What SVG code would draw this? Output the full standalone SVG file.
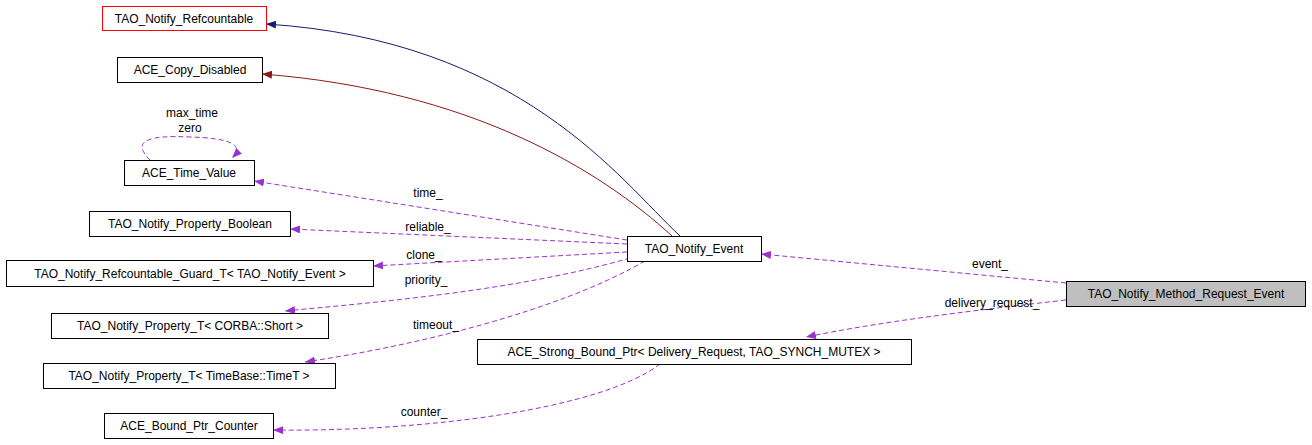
<svg xmlns="http://www.w3.org/2000/svg" width="1312" height="445" viewBox="0 0 1312 445">
<style>
.n rect{fill:#fff;stroke:#000;stroke-width:1}
text{font-family:"Liberation Sans",Arial,sans-serif;font-size:12px;fill:#000}
.n text{text-anchor:middle}
.l{text-anchor:middle}
.d{fill:none;stroke:#9a32cd;stroke-dasharray:5,3}
</style>
<defs>
<marker id="mp" markerWidth="10" markerHeight="8" refX="10" refY="4" orient="auto" markerUnits="userSpaceOnUse"><path d="M0,0L10,4L0,8z" fill="#9a32cd"/></marker>
<marker id="mb" markerWidth="10" markerHeight="8" refX="10" refY="4" orient="auto" markerUnits="userSpaceOnUse"><path d="M0,0L10,4L0,8z" fill="#191970"/></marker>
<marker id="mr" markerWidth="10" markerHeight="8" refX="10" refY="4" orient="auto" markerUnits="userSpaceOnUse"><path d="M0,0L10,4L0,8z" fill="#8b1a1a"/></marker>
</defs>
<g id="edges">
<path d="M680,236C620,180 520,40 266,24" fill="none" stroke="#191970" marker-end="url(#mb)"/>
<path d="M672,236C600,170 470,90 262,74" fill="none" stroke="#8b1a1a" marker-end="url(#mr)"/>
<path class="d" d="M150,160C130,140 150,135 190,137C230,138 245,145 232,158" marker-end="url(#mp)"/>
<path class="d" d="M627,240L254,181" marker-end="url(#mp)"/>
<path class="d" d="M627,244L290,229" marker-end="url(#mp)"/>
<path class="d" d="M627,252L373,266" marker-end="url(#mp)"/>
<path class="d" d="M630,258C520,290 380,302 285,311" marker-end="url(#mp)"/>
<path class="d" d="M645,261C560,310 420,345 305,362" marker-end="url(#mp)"/>
<path class="d" d="M1066,283L761,254" marker-end="url(#mp)"/>
<path class="d" d="M1066,300C960,312 880,322 806,337" marker-end="url(#mp)"/>
<path class="d" d="M660,364C600,410 420,432 273,430" marker-end="url(#mp)"/>
<text class="l" x="192" y="117">max_time</text>
<text class="l" x="190" y="132">zero</text>
<text class="l" x="428" y="197">time_</text>
<text class="l" x="428" y="231">reliable_</text>
<text class="l" x="424" y="259">clone_</text>
<text class="l" x="426" y="284">priority_</text>
<text class="l" x="436" y="329">timeout_</text>
<text class="l" x="990" y="268">event_</text>
<text class="l" x="992" y="307">delivery_request_</text>
<text class="l" x="424" y="416">counter_</text>
</g>
<g id="n1" class="n"><rect x="102.5" y="6.5" width="164" height="24" style="stroke:#f00"/><text x="184" y="23">TAO_Notify_Refcountable</text></g>
<g id="n2" class="n"><rect x="117.5" y="57.5" width="145" height="25"/><text x="190" y="74">ACE_Copy_Disabled</text></g>
<g id="n3" class="n"><rect x="124.5" y="160.5" width="130" height="25"/><text x="189" y="177">ACE_Time_Value</text></g>
<g id="n4" class="n"><rect x="89.5" y="211.5" width="201" height="25"/><text x="190" y="228">TAO_Notify_Property_Boolean</text></g>
<g id="n5" class="n"><rect x="6.5" y="260.5" width="367" height="26"/><text x="190" y="278">TAO_Notify_Refcountable_Guard_T&lt; TAO_Notify_Event &gt;</text></g>
<g id="n6" class="n"><rect x="51.5" y="313.5" width="277" height="25"/><text x="190" y="330">TAO_Notify_Property_T&lt; CORBA::Short &gt;</text></g>
<g id="n7" class="n"><rect x="43.5" y="363.5" width="292" height="25"/><text x="189" y="380">TAO_Notify_Property_T&lt; TimeBase::TimeT &gt;</text></g>
<g id="n8" class="n"><rect x="104.5" y="413.5" width="169" height="25"/><text x="189" y="430">ACE_Bound_Ptr_Counter</text></g>
<g id="n9" class="n"><rect x="627.5" y="236.5" width="134" height="25"/><text x="694" y="253">TAO_Notify_Event</text></g>
<g id="n10" class="n"><rect x="477.5" y="339.5" width="434" height="25"/><text x="694" y="356">ACE_Strong_Bound_Ptr&lt; Delivery_Request, TAO_SYNCH_MUTEX &gt;</text></g>
<g id="n11" class="n"><rect x="1066.5" y="281.5" width="239" height="25" style="fill:#bfbfbf"/><text x="1186" y="298">TAO_Notify_Method_Request_Event</text></g>
</svg>
